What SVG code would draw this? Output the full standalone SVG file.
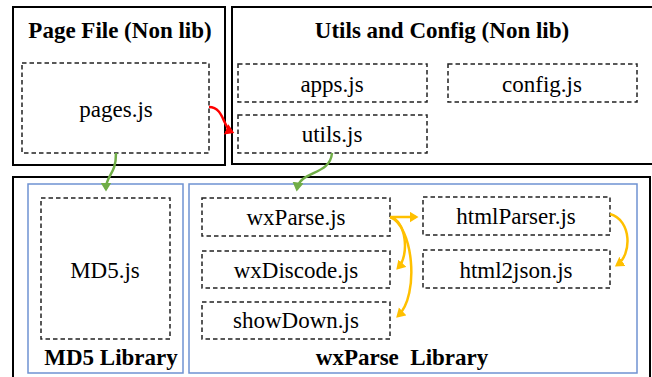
<svg xmlns="http://www.w3.org/2000/svg" width="652" height="377" viewBox="0 0 652 377">
<style>
.outer{fill:none;stroke:#000;stroke-width:2}
.blue{fill:none;stroke:#6F92D2;stroke-width:1.5}
.dash{fill:none;stroke:#222;stroke-width:1.5;stroke-dasharray:4.5,3}
.lbl{font-family:"Liberation Serif","Times New Roman",serif;font-size:23px;fill:#000;text-anchor:middle}
.ttl{font-family:"Liberation Serif","Times New Roman",serif;font-size:23px;font-weight:bold;fill:#000;text-anchor:middle}
.g{fill:none;stroke:#70AD47;stroke-width:2.5}
.r{fill:none;stroke:#FF0000;stroke-width:2.5}
.y{fill:none;stroke:#FFC000;stroke-width:2.5}
</style>
<defs>
<marker id="mg" markerWidth="5" markerHeight="5" refX="2.6" refY="2.2" orient="auto" markerUnits="strokeWidth"><path d="M0,0 L3.6,2.2 L0,4.4 Z" fill="#70AD47"/></marker>
<marker id="mr" markerWidth="5" markerHeight="5" refX="2.6" refY="2.2" orient="auto" markerUnits="strokeWidth"><path d="M0,0 L3.6,2.2 L0,4.4 Z" fill="#FF0000"/></marker>
<marker id="my" markerWidth="5" markerHeight="5" refX="2.6" refY="2.2" orient="auto" markerUnits="strokeWidth"><path d="M0,0 L3.6,2.2 L0,4.4 Z" fill="#FFC000"/></marker>
</defs>
<rect width="652" height="377" fill="#fff"/>
<g id="page-file">
<rect class="outer" x="13" y="7" width="212" height="158"/>
<text class="ttl" x="120" y="38">Page File (Non lib)</text>
</g>
<g id="utils-config">
<rect class="outer" x="232" y="7" width="430" height="157"/>
<text class="ttl" x="442" y="38">Utils and Config (Non lib)</text>
</g>
<g id="libraries">
<rect class="outer" x="13" y="177" width="637" height="230" stroke="#444"/>
</g>
<g id="md5-library">
<rect class="blue" x="28" y="184" width="155" height="189"/>
<text class="ttl" x="111" y="365">MD5 Library</text>
</g>
<g id="wxparse-library">
<rect class="blue" x="189" y="184" width="448" height="189"/>
<text class="ttl" x="402" y="365" xml:space="preserve">wxParse  Library</text>
</g>
<g id="pages"><rect class="dash" x="22" y="63" width="187" height="90"/><text class="lbl" x="116" y="117">pages.js</text></g>
<g id="apps"><rect class="dash" x="238" y="64" width="189" height="38"/><text class="lbl" x="332" y="92">apps.js</text></g>
<g id="config"><rect class="dash" x="448" y="64" width="189" height="38"/><text class="lbl" x="542" y="92">config.js</text></g>
<g id="utils"><rect class="dash" x="238" y="115" width="189" height="38"/><text class="lbl" x="332" y="142">utils.js</text></g>
<g id="md5"><rect class="dash" x="41" y="198" width="129" height="141"/><text class="lbl" x="105" y="278">MD5.js</text></g>
<g id="wxparse"><rect class="dash" x="202" y="198" width="188" height="38"/><text class="lbl" x="296" y="225">wxParse.js</text></g>
<g id="wxdiscode"><rect class="dash" x="202" y="251" width="188" height="37"/><text class="lbl" x="296" y="278">wxDiscode.js</text></g>
<g id="showdown"><rect class="dash" x="202" y="302" width="188" height="37"/><text class="lbl" x="296" y="328">showDown.js</text></g>
<g id="htmlparser"><rect class="dash" x="423" y="197" width="187" height="38"/><text class="lbl" x="516" y="224">htmlParser.js</text></g>
<g id="html2json"><rect class="dash" x="423" y="250" width="187" height="38"/><text class="lbl" x="516" y="278">html2json.js</text></g>
<g id="connectors">
<path class="r" d="M209,107 C224,107 223,128 232,132" marker-end="url(#mr)"/>
<path class="g" d="M116,153 C116,176 106,174 106,189" marker-end="url(#mg)"/>
<path class="g" d="M332,153 C330,176 300,170 297,189" marker-end="url(#mg)"/>
<path class="y" d="M390,217 L416,217" marker-end="url(#my)"/>
<path class="y" d="M390,217 C406,220 410,255 398,268" marker-end="url(#my)"/>
<path class="y" d="M390,217 C413,225 420,295 398,316" marker-end="url(#my)"/>
<path class="y" d="M610,214 C632,220 632,255 617,265" marker-end="url(#my)"/>
</g>
</svg>
